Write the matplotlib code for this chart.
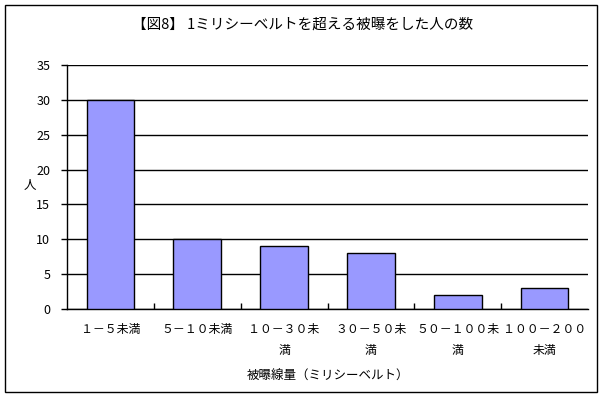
import matplotlib
matplotlib.use("Agg")
import matplotlib.pyplot as plt
from matplotlib.patches import Rectangle

plt.rcParams['font.family'] = ['Noto Sans CJK JP', 'DejaVu Sans']

categories = ["１－５未満", "５－１０未満", "１０－３０未\n満", "３０－５０未\n満", "５０－１００未\n満", "１００－２００\n未満"]
counts = [30, 10, 9, 8, 2, 3]
yticks = [0, 5, 10, 15, 20, 25, 30, 35]

fig = plt.figure(figsize=(6.05, 3.97), dpi=100)
ax = fig.add_axes([67/605, 1-309/397, (588-67)/605, (309-65)/397])

x = list(range(len(categories)))
ax.bar(x, counts, width=0.55, color="#9999FF", edgecolor="black", linewidth=1, zorder=3)
ax.set_xlim(-0.5, len(categories) - 0.5)
ax.set_ylim(0, 35)
ax.set_yticks(yticks)
ax.yaxis.grid(True, color="black", linewidth=1, zorder=0)
ax.set_axisbelow(True)
for s in ["top", "right"]:
    ax.spines[s].set_visible(False)
ax.spines["left"].set_linewidth(1)
ax.spines["bottom"].set_linewidth(1)
ax.tick_params(axis="y", length=4, width=1, labelsize=9, direction="out", pad=8)
ax.set_xticks([i + 0.5 for i in x[:-1]], minor=True)
ax.set_xticks(x)
ax.set_xticklabels(categories, fontsize=8.6, linespacing=1.85)
ax.tick_params(axis="x", which="major", length=0, pad=10)
ax.tick_params(axis="x", which="minor", length=4, width=1, direction="in")

ax.set_ylabel("人", rotation=0, fontsize=9, va="center")
ax.yaxis.set_label_coords(-0.072, 0.505)
ax.set_xlabel("被曝線量（ミリシーベルト）", fontsize=9)
ax.xaxis.set_label_coords(0.5, -0.25)

fig.text(0.5, 1-25/397, "【図8】 1ミリシーベルトを超える被曝をした人の数", ha="center", va="center", fontsize=10.5)
fig.patches.append(Rectangle((5/605, 5/397), 592/605, 387/397, transform=fig.transFigure,
                             fill=False, edgecolor="black", linewidth=1))

fig.savefig("out.png", dpi=100)
